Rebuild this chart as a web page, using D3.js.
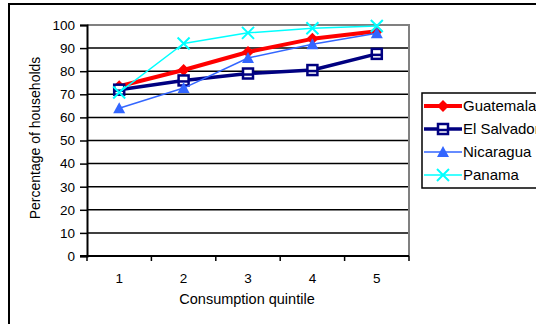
<!DOCTYPE html>
<html>
<head>
<meta charset="utf-8">
<script src="https://cdn.jsdelivr.net/npm/d3@7"></script>
<style>
  body { margin: 0; background: #fff; }
  svg { display: block; font-family: "Liberation Sans", Arial, sans-serif; }
</style>
</head>
<body>
<div id="chart"></div>
<script>
// chart data
var quintiles = ["1", "2", "3", "4", "5"];
var guatemala = [73.5, 80.5, 88.3, 94, 97.3];
var elSalvador = [72, 76, 79, 80.5, 87.5];
var nicaragua = [64, 72.7, 85.7, 91.7, 96.4];
var panama = [70.8, 92, 96.6, 98.6, 99.6];
var yTicks = [0, 10, 20, 30, 40, 50, 60, 70, 80, 90, 100];

var series = [
  {name: "Guatemala", values: guatemala, color: "#ff0000", width: 4, marker: "diamond"},
  {name: "El Salvador", values: elSalvador, color: "#000080", width: 3.5, marker: "square"},
  {name: "Nicaragua", values: nicaragua, color: "#3366ff", width: 1.5, marker: "triangle"},
  {name: "Panama", values: panama, color: "#00ffff", width: 1.5, marker: "cross"}
];

var W = 536, H = 324;
var plot = {left: 87, right: 409, top: 25, bottom: 256};

var svg = d3.select("#chart").append("svg")
  .attr("width", W)
  .attr("height", H);

//outer frame (runs off the picture right and bottom)
svg.append("rect")
  .attr("x", 9).attr("y", 4)
  .attr("width", 700).attr("height", 500)
  .attr("fill", "none")
  .attr("stroke", "#000")
  .attr("stroke-width", 2);

var x = d3.scaleBand()
  .domain(quintiles)
  .range([plot.left, plot.right]);

var y = d3.scaleLinear()
  .domain([0, 100])
  .range([plot.bottom, plot.top]);

//gridlines
svg.append("g").selectAll("line")
  .data(yTicks.filter(function(d){ return d > 0 && d < 100; }))
  .enter().append("line")
    .attr("x1", plot.left).attr("x2", plot.right)
    .attr("y1", function(d){ return y(d); })
    .attr("y2", function(d){ return y(d); })
    .attr("stroke", "#000")
    .attr("stroke-width", 1.5);

//plot border top and right in gray
svg.append("path")
  .attr("d", "M" + plot.left + "," + plot.top + "H" + plot.right + "V" + plot.bottom)
  .attr("fill", "none")
  .attr("stroke", "#808080")
  .attr("stroke-width", 2);

//y axis
var yAxis = svg.append("g")
  .attr("transform", "translate(" + plot.left + ",0)")
  .call(d3.axisLeft(y).tickValues(yTicks).tickSize(7).tickPadding(5));
yAxis.select(".domain").attr("stroke", "#000").attr("stroke-width", 2);
yAxis.selectAll(".tick line").attr("stroke", "#000").attr("stroke-width", 1.5);
yAxis.selectAll("text").attr("font-size", 13.5).attr("fill", "#000")
  .attr("font-family", "Liberation Sans, Arial, sans-serif");

//x axis, ticks between categories
var xAxisG = svg.append("g").attr("transform", "translate(0," + plot.bottom + ")");
xAxisG.append("line")
  .attr("x1", plot.left - 7).attr("x2", plot.right)
  .attr("stroke", "#000").attr("stroke-width", 2);
var bounds = quintiles.map(function(d){ return x(d); }).concat([plot.right]);
xAxisG.selectAll(".xt").data(bounds).enter().append("line")
  .attr("class", "xt")
  .attr("x1", function(d){ return d; }).attr("x2", function(d){ return d; })
  .attr("y1", 0).attr("y2", 5)
  .attr("stroke", "#000").attr("stroke-width", 1.5);
xAxisG.selectAll(".xl").data(quintiles).enter().append("text")
  .attr("class", "xl")
  .attr("x", function(d){ return x(d) + x.bandwidth() / 2; })
  .attr("y", 27)
  .attr("text-anchor", "middle")
  .attr("font-size", 13.5)
  .text(function(d){ return d; });

//axis titles
svg.append("text")
  .attr("x", 247)
  .attr("y", 304)
  .attr("text-anchor", "middle")
  .attr("font-size", 14.5)
  .text("Consumption quintile");

svg.append("text")
  .attr("transform", "translate(40,138) rotate(-90)")
  .attr("text-anchor", "middle")
  .attr("font-size", 14)
  .text("Percentage of households");

//lines
var line = d3.line()
  .x(function(d, i){ return x(quintiles[i]) + x.bandwidth() / 2; })
  .y(function(d){ return y(d); });

function drawMarker(g, type, color, cx, cy) {
  if (type === "diamond") {
    g.append("path")
      .attr("d", "M" + cx + "," + (cy - 6) + "L" + (cx + 6) + "," + cy + "L" + cx + "," + (cy + 6) + "L" + (cx - 6) + "," + cy + "Z")
      .attr("fill", color);
  } else if (type === "square") {
    g.append("rect")
      .attr("x", cx - 5).attr("y", cy - 5)
      .attr("width", 10).attr("height", 10)
      .attr("fill", "#fff")
      .attr("stroke", color).attr("stroke-width", 2.5);
    g.append("line")
      .attr("x1", cx - 5).attr("x2", cx + 5)
      .attr("y1", cy + 1).attr("y2", cy + 1)
      .attr("stroke", color).attr("stroke-width", 2.5);
  } else if (type === "triangle") {
    g.append("path")
      .attr("d", "M" + cx + "," + (cy - 6) + "L" + (cx + 6) + "," + (cy + 5) + "L" + (cx - 6) + "," + (cy + 5) + "Z")
      .attr("fill", color);
  } else if (type === "cross") {
    g.append("path")
      .attr("d", "M" + (cx - 6) + "," + (cy - 6) + "L" + (cx + 6) + "," + (cy + 6) +
                 "M" + (cx + 6) + "," + (cy - 6) + "L" + (cx - 6) + "," + (cy + 6))
      .attr("stroke", color).attr("stroke-width", 2).attr("fill", "none");
  }
}

series.forEach(function(s){
  var g = svg.append("g");
  g.append("path")
    .attr("d", line(s.values))
    .attr("fill", "none")
    .attr("stroke", s.color)
    .attr("stroke-width", s.width)
    .attr("stroke-linejoin", "round");
  s.values.forEach(function(v, i){
    drawMarker(g, s.marker, s.color, x(quintiles[i]) + x.bandwidth() / 2, y(v));
  });
});

//legend
var legend = svg.append("g").attr("transform", "translate(422,93)");
legend.append("rect")
  .attr("width", 200).attr("height", 95)
  .attr("fill", "#fff")
  .attr("stroke", "#000").attr("stroke-width", 1.5);
series.forEach(function(s, i){
  var ly = 13 + i * 23;
  var lg = legend.append("g");
  lg.append("line")
    .attr("x1", 2).attr("x2", 40)
    .attr("y1", ly).attr("y2", ly)
    .attr("stroke", s.color).attr("stroke-width", s.width);
  drawMarker(lg, s.marker, s.color, 21, ly);
  lg.append("text")
    .attr("x", 41).attr("y", ly + 5)
    .attr("font-size", 15)
    .text(s.name);
});
</script>
</body>
</html>
